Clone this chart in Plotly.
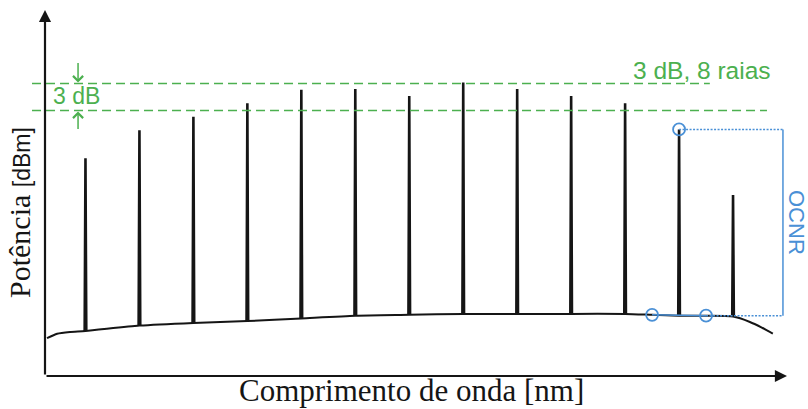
import plotly.graph_objects as go

# ---------------- data ----------------
# channel centre wavelengths [nm] (100 GHz grid, 13 channels)
channel_wl = [1545.6, 1546.4, 1547.2, 1548.0, 1548.8, 1549.6, 1550.4,
              1551.2, 1552.0, 1552.8, 1553.6, 1554.4, 1555.2]
# peak power of each channel [dBm]
channel_peak_dbm = [-35.8, -32.7, -31.2, -29.7, -28.2, -28.1, -28.9,
                    -27.4, -28.1, -28.9, -29.7, -32.6, -39.9]
# noise floor under each channel [dBm]
channel_base_dbm = [-55.0, -54.4, -54.1, -53.9, -53.6, -53.3, -53.2,
                    -53.1, -53.1, -53.1, -53.1, -53.3, -53.4]

# ASE noise floor samples
floor_wl = [1545.03, 1545.18, 1545.37, 1545.6, 1546.4, 1547.2, 1548.0,
            1548.8, 1549.6, 1550.4, 1551.2, 1552.0, 1552.8, 1553.6,
            1554.0, 1554.4, 1554.8, 1555.2, 1555.45, 1555.62, 1555.79]
floor_dbm = [-55.8, -55.3, -55.1, -55.0, -54.4, -54.1, -53.9,
             -53.6, -53.3, -53.2, -53.1, -53.1, -53.1, -53.1,
             -53.2, -53.3, -53.3, -53.4, -54.0, -54.6, -55.3]

# 3 dB band levels [dBm]
band_top_dbm = -27.5
band_low_dbm = -30.5

# OCNR measurement points
ocnr_noise_wl = [1554.0, 1554.8]
ocnr_noise_dbm = [-53.2, -53.3]
ocnr_signal_wl = 1554.4
ocnr_signal_dbm = -32.6
ocnr_bracket_wl = 1555.94

# axis ranges
x_range = [1545.0, 1556.0]
y_range = [-60.0, -19.33]

# ---------------- styles ----------------
BLACK = "#151515"
GREEN = "#4cb04f"
BLUE = "#4a90d6"
SERIF = "Liberation Serif, Times New Roman, serif"
SANS = "Liberation Sans, Arial, sans-serif"
spike_half_width = 0.012

fig = go.Figure()

# noise floor
fig.add_trace(go.Scatter(x=floor_wl, y=floor_dbm, mode="lines",
                         line=dict(color=BLACK, width=2, shape="spline", smoothing=0.6),
                         hoverinfo="skip", showlegend=False))

# channel spikes
for wl, top, base in zip(channel_wl, channel_peak_dbm, channel_base_dbm):
    fig.add_trace(go.Scatter(x=[wl - spike_half_width, wl, wl + spike_half_width],
                             y=[base, top, base], mode="lines",
                             line=dict(color=BLACK, width=2.6),
                             hoverinfo="skip", showlegend=False))

# green dashed 3 dB band lines
fig.add_shape(type="line", xref="paper", yref="y", x0=-0.0175, x1=0.896,
              y0=band_top_dbm, y1=band_top_dbm,
              line=dict(color=GREEN, width=1.5, dash="9px,5px"))
fig.add_shape(type="line", xref="paper", yref="y", x0=-0.0175, x1=0.973,
              y0=band_low_dbm, y1=band_low_dbm,
              line=dict(color=GREEN, width=1.5, dash="9px,5px"))

# OCNR helper lines
fig.add_trace(go.Scatter(x=ocnr_noise_wl, y=ocnr_noise_dbm, mode="lines",
                         line=dict(color=BLUE, width=1.5),
                         hoverinfo="skip", showlegend=False))
fig.add_trace(go.Scatter(x=[ocnr_noise_wl[-1], ocnr_bracket_wl],
                         y=[ocnr_noise_dbm[-1], ocnr_noise_dbm[-1]], mode="lines",
                         line=dict(color=BLUE, width=1.5, dash="2px,1.5px"),
                         hoverinfo="skip", showlegend=False))
fig.add_trace(go.Scatter(x=[ocnr_signal_wl, ocnr_bracket_wl],
                         y=[ocnr_signal_dbm, ocnr_signal_dbm], mode="lines",
                         line=dict(color=BLUE, width=1.5, dash="2px,1.5px"),
                         hoverinfo="skip", showlegend=False))
fig.add_trace(go.Scatter(x=[ocnr_bracket_wl, ocnr_bracket_wl],
                         y=[ocnr_signal_dbm, ocnr_noise_dbm[-1]], mode="lines",
                         line=dict(color=BLUE, width=1.5),
                         hoverinfo="skip", showlegend=False))
fig.add_trace(go.Scatter(x=ocnr_noise_wl + [ocnr_signal_wl],
                         y=ocnr_noise_dbm + [ocnr_signal_dbm], mode="markers",
                         marker=dict(symbol="circle-open", size=12, color=BLUE,
                                     line=dict(width=1.8, color=BLUE)),
                         hoverinfo="skip", showlegend=False))

annotations = [
    # axes with arrow heads
    dict(xref="paper", yref="paper", x=1.0, y=0.0, ax=-742, ay=0,
         axref="pixel", ayref="pixel", text="", showarrow=True,
         arrowhead=2, arrowsize=1.1, arrowwidth=2.2, arrowcolor=BLACK, standoff=0),
    dict(xref="paper", yref="paper", x=0.0, y=1.0, ax=0, ay=366,
         axref="pixel", ayref="pixel", text="", showarrow=True,
         arrowhead=2, arrowsize=1.1, arrowwidth=2.2, arrowcolor=BLACK, standoff=0),
    # axis titles
    dict(xref="paper", yref="paper", x=(411 - 45) / 742, y=(376 - 410) / 366,
         xanchor="center", yanchor="bottom", showarrow=False,
         text="Comprimento de onda [nm]",
         font=dict(family=SERIF, size=31, color=BLACK)),
    dict(xref="paper", yref="paper", x=(19 - 45) / 742, y=(376 - 213) / 366,
         xanchor="center", yanchor="middle", showarrow=False, textangle=-90,
         text="Potência <span style='font-family:Liberation Sans;font-size:23px'>[dBm]</span>",
         font=dict(family=SERIF, size=30, color=BLACK)),
    # 3 dB annotation
    dict(xref="x", yref="y", x=1545.46, y=(band_top_dbm + band_low_dbm) / 2,
         showarrow=False, text="3 dB", xanchor="center", yanchor="middle",
         yshift=1, font=dict(family=SANS, size=23, color=GREEN)),
    dict(xref="x", yref="y", x=1545.49, y=band_top_dbm, ax=0, ay=-22,
         text="", showarrow=True, arrowhead=4, arrowsize=1.3, arrowwidth=1.5,
         arrowcolor=GREEN, standoff=1),
    dict(xref="x", yref="y", x=1545.49, y=band_low_dbm, ax=0, ay=20,
         text="", showarrow=True, arrowhead=4, arrowsize=1.3, arrowwidth=1.5,
         arrowcolor=GREEN, standoff=1),
    dict(xref="x", yref="y", x=1554.74, y=band_top_dbm, yshift=13,
         showarrow=False, text="3 dB, 8 raias", xanchor="center", yanchor="middle",
         font=dict(family=SANS, size=24.5, color=GREEN)),
    # OCNR label
    dict(xref="paper", yref="paper", x=(797 - 45) / 742, y=(376 - 223) / 366,
         showarrow=False, text="OCNR", textangle=90, xanchor="center", yanchor="middle",
         font=dict(family=SANS, size=22, color=BLUE)),
]

axis_common = dict(showgrid=False, zeroline=False, showline=False,
                   showticklabels=False, ticks="")
fig.update_layout(
    width=808, height=409,
    margin=dict(l=45, r=21, t=10, b=33),
    paper_bgcolor="white", plot_bgcolor="white",
    xaxis=dict(range=x_range, **axis_common),
    yaxis=dict(range=y_range, **axis_common),
    annotations=annotations,
    showlegend=False,
)

fig.write_html("out.html", config={"displayModeBar": False},
               post_script="document.body.style.margin='0';document.body.style.overflow='hidden';")
